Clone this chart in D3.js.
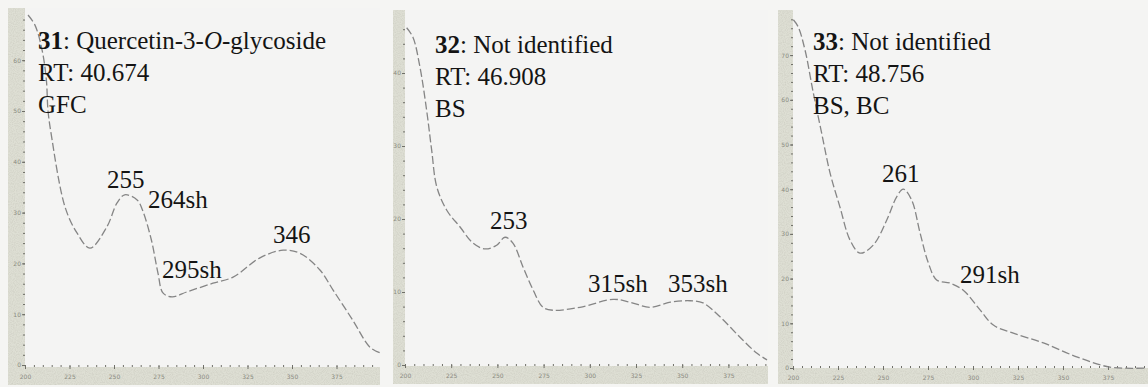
<!DOCTYPE html>
<html>
<head>
<meta charset="utf-8">
<script src="https://cdn.jsdelivr.net/npm/d3@7"></script>
<style>
  body { margin: 0; background: #f5f5f3; }
  svg { display: block; }
  .tick text { font-family: "DejaVu Sans", sans-serif; font-size: 6px; fill: #8a8a80; }
  .tick line { stroke: #6f6f68; }
  .domain { display: none; }
</style>
</head>
<body>
<svg id="chart" width="1148" height="387"></svg>
<script>
// UV spectra, wavelength (nm) vs absorbance (mAU)
const wl31  = [201.7, 205.6, 209.6, 212, 212.9, 214.6, 222.5, 229.2, 236.5, 246, 251.7, 256, 263, 266, 271, 274.7, 277.5, 282.6, 291, 305.6, 316.9, 332, 345, 354.5, 365.7, 373, 384, 393.8, 399.4];
const abs31 = [68.9, 66.9, 62.0, 56.1, 50.2, 45.7, 31.1, 26.0, 23.0, 27.2, 31.9, 33.5, 32.5, 30.5, 24.6, 18.1, 14.2, 13.4, 14.4, 16.1, 17.3, 21.1, 22.6, 22.0, 18.7, 14.8, 8.9, 3.5, 2.4];

const wl32  = [200.9, 204.3, 208.1, 211.7, 214.4, 217.2, 222.6, 229.8, 236.8, 243.3, 249.6, 254.1, 258.4, 263.9, 269.3, 274.7, 280.1, 294.7, 312.6, 321.8, 332.6, 343.5, 354.3, 361.3, 370.5, 381.3, 390.5, 395.9];
const abs32 = [46.2, 44.9, 40.8, 34.9, 29.5, 24.4, 21.2, 18.9, 16.7, 15.9, 16.4, 17.5, 16.7, 13.4, 10.3, 7.9, 7.5, 7.9, 9.0, 8.6, 7.9, 8.6, 8.8, 8.5, 6.6, 3.8, 1.6, 0.7];

const wl33  = [200.2, 202.9, 206.7, 211.3, 215.9, 220.6, 226.1, 231.7, 237.2, 244.6, 252.1, 257.6, 261.3, 265.9, 270.6, 275.2, 279.8, 287.2, 294.6, 303.9, 311.3, 322.4, 339.1, 357.6, 376.1, 396.5];
const abs33 = [77.9, 76.3, 71.1, 61.5, 52.6, 43.6, 36.0, 28.6, 25.7, 27.5, 33.1, 38.3, 40.0, 37.6, 30.2, 23.5, 19.7, 19.0, 17.4, 13.0, 9.6, 7.8, 5.6, 2.5, 0.2, 0];

// header lines and peak labels
const titles = [
  [["31", ": Quercetin-3-", "O", "-glycoside"], ["RT: 40.674"], ["GFC"]],
  [["32", ": Not identified"], ["RT: 46.908"], ["BS"]],
  [["33", ": Not identified"], ["RT: 48.756"], ["BS, BC"]]
];
const peaks31 = ["255", "264sh", "295sh", "346"];
const peaks32 = ["253", "315sh", "353sh"];
const peaks33 = ["261", "291sh"];
// where each peak label sits, in data units (nm, mAU)
const peakAt31 = [[246.1, 34.8], [269.1, 30.9], [277.0, 17.1], [339.3, 24.0]];
const peakAt32 = [[246.0, 18.6], [299.0, 10.0], [342.3, 10.0]];
const peakAt33 = [[249.4, 41.6], [292.8, 19.0]];

const yTicks31 = [0, 10, 20, 30, 40, 50, 60];
const yTicks32 = [0, 10, 20, 30, 40];
const yTicks33 = [0, 10, 20, 30, 40, 50, 60, 70];
const xTicks = [200, 225, 250, 275, 300, 325, 350, 375, 400];

const serif = '"Liberation Serif", Tinos, "Nimbus Roman", "Noto Serif", "DejaVu Serif", FreeSerif, "Times New Roman", Times, serif';
const svg = d3.select("#chart");

// speckled scan texture for the axis strips
const defs = svg.append("defs");
const f = defs.append("filter").attr("id", "grain").attr("x", 0).attr("y", 0).attr("width", 1).attr("height", 1);
f.append("feTurbulence").attr("type", "fractalNoise").attr("baseFrequency", 0.9).attr("numOctaves", 2).attr("seed", 3).attr("result", "n");
f.append("feColorMatrix").attr("in", "n").attr("type", "matrix")
  .attr("values", "0 0 0 0 0.62  0 0 0 0 0.62  0 0 0 0 0.55  0 0 0 1.6 -0.55")
  .attr("result", "dots");
f.append("feComposite").attr("in", "dots").attr("in2", "SourceGraphic").attr("operator", "atop");

const panels = [
  {id: 31, wl: wl31, ab: abs31, peaks: peaks31, at: peakAt31, yt: yTicks31,
   stripX: 8, x0: 25, x1: 381, right: 380, top: 8, y0: 365, yMax: 70, yTop: 9.4, axisY: 367, bottom: 385, tx: 38, ty: 49},
  {id: 32, wl: wl32, ab: abs32, peaks: peaks32, at: peakAt32, yt: yTicks32,
   stripX: 393, x0: 405, x1: 774.6, right: 768, top: 10, y0: 365, yMax: 48, yTop: 14.6, axisY: 366, bottom: 384, tx: 435, ty: 53},
  {id: 33, wl: wl33, ab: abs33, peaks: peaks33, at: peakAt33, yt: yTicks33,
   stripX: 778, x0: 793, x1: 1153, right: 1148, top: 10, y0: 368, yMax: 80, yTop: 10.4, axisY: 368, bottom: 384, tx: 813, ty: 50}
];

panels.forEach((p, i) => {
  const x = d3.scaleLinear().domain([200, 400]).range([p.x0, p.x1]);
  const y = d3.scaleLinear().domain([0, p.yMax]).range([p.y0, p.yTop]);
  const g = svg.append("g").attr("class", "panel");

  // plot area
  g.append("rect").attr("x", p.x0).attr("y", p.top)
    .attr("width", p.right - p.x0).attr("height", p.axisY - p.top)
    .attr("fill", "#f4f4f3");

  // axis strips
  g.append("rect").attr("x", p.stripX).attr("y", p.top)
    .attr("width", p.x0 - p.stripX).attr("height", p.bottom - p.top)
    .attr("fill", "#dedfd4").attr("filter", "url(#grain)");
  g.append("rect").attr("x", p.stripX).attr("y", p.axisY)
    .attr("width", p.right - p.stripX).attr("height", p.bottom - p.axisY)
    .attr("fill", "#dedfd4").attr("filter", "url(#grain)");

  // y axis: major labelled ticks + minor ticks
  const step = p.yt[1] - p.yt[0];
  g.append("g").attr("transform", `translate(${p.x0},0)`)
    .call(d3.axisLeft(y).tickValues(d3.range(0, p.yMax, step / 5)).tickSize(2).tickFormat(""));
  g.append("g").attr("transform", `translate(${p.x0},0)`)
    .call(d3.axisLeft(y).tickValues(p.yt).tickSize(3).tickPadding(1));

  // x axis, ticks past the panel edge dropped
  const clip = "clip" + p.id;
  defs.append("clipPath").attr("id", clip).append("rect")
    .attr("x", p.stripX).attr("y", 0).attr("width", p.right - p.stripX).attr("height", 387);
  const xa = g.append("g").attr("clip-path", `url(#${clip})`);
  xa.append("g").attr("transform", `translate(0,${p.axisY})`)
    .call(d3.axisBottom(x).tickValues(d3.range(200, 401, 5)).tickSize(2).tickFormat(""))
    .selectAll("line").attr("transform", "translate(0,-2)");
  xa.append("g").attr("transform", `translate(0,${p.axisY})`)
    .call(d3.axisBottom(x).tickValues(xTicks.filter(v => x(v) < p.right - 4)).tickSize(3).tickPadding(5))
    .selectAll("line").attr("transform", "translate(0,-1)");

  // spectrum
  const line = d3.line().x(d => x(d[0])).y(d => y(d[1])).curve(d3.curveCatmullRom.alpha(0.5));
  g.append("path").datum(d3.zip(p.wl, p.ab))
    .attr("clip-path", `url(#${clip})`)
    .attr("d", line)
    .attr("fill", "none")
    .attr("stroke", "#858585")
    .attr("stroke-width", 1.3)
    .attr("stroke-dasharray", "8,3");

  // header text
  titles[i].forEach((parts, j) => {
    const t = g.append("text")
      .attr("font-family", serif).attr("font-size", 25).attr("fill", "#141414")
      .attr("x", p.tx).attr("y", p.ty + j * 32);
    parts.forEach((s, k) => {
      const ts = t.append("tspan").text(s);
      if (j === 0 && k === 0) ts.attr("font-weight", "bold");
      if (s === "O") ts.attr("font-style", "italic");
    });
  });

  // peak labels
  g.selectAll("text.peak").data(p.peaks).enter().append("text")
    .attr("class", "peak")
    .attr("font-family", serif).attr("font-size", 25).attr("fill", "#141414")
    .attr("x", (d, k) => x(p.at[k][0]))
    .attr("y", (d, k) => y(p.at[k][1]))
    .text(d => d);
});
</script>
</body>
</html>
